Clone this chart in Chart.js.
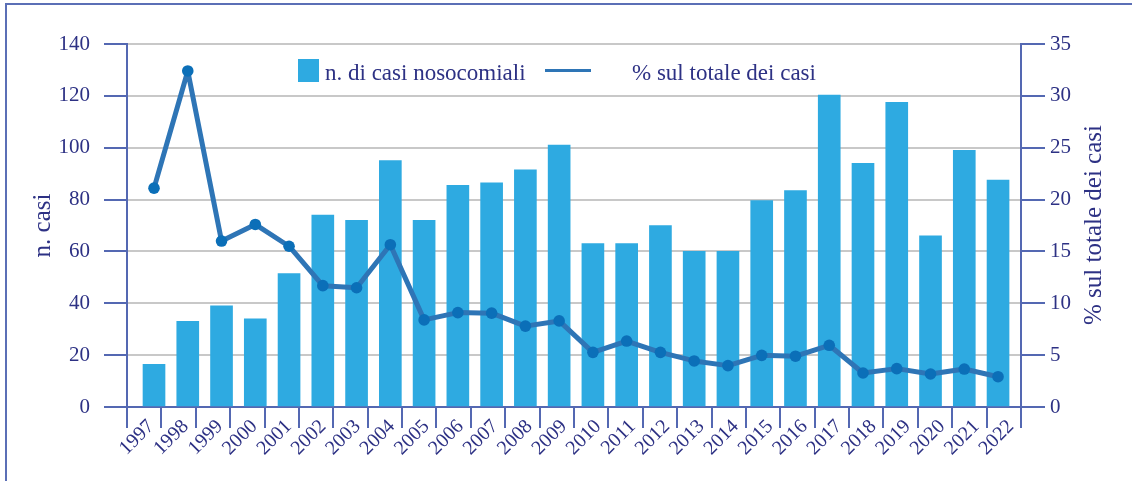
<!DOCTYPE html>
<html>
<head>
<meta charset="utf-8">
<script src="https://cdn.jsdelivr.net/npm/chart.js@4.4.0/dist/chart.umd.min.js"></script>
<style>
html,body{margin:0;padding:0;background:#fff;}
#wrap{position:relative;width:1132px;height:481px;overflow:hidden;background:#fff;}
#frame{position:absolute;left:5px;top:3px;width:1200px;height:600px;border-left:2px solid #5b6fb6;border-top:2px solid #5b6fb6;box-sizing:border-box;}
canvas{position:absolute;left:0;top:0;}
.leg{position:absolute;font-family:"Liberation Serif",serif;font-size:23px;color:#2d3184;white-space:nowrap;line-height:1;}
#rt{position:absolute;left:943px;top:210px;width:300px;height:30px;line-height:30px;text-align:center;font-family:"Liberation Serif",serif;font-size:25px;color:#2d3184;transform:rotate(-90deg);transform-origin:50% 50%;white-space:nowrap;}
</style>
</head>
<body>
<div id="wrap">
  <div id="frame"></div>
  <canvas id="c" width="1132" height="481"></canvas>
  <div class="leg" style="left:298px;top:59px;width:21px;height:23px;background:#2eaae1"></div>
  <div class="leg" style="left:325px;top:61px">n. di casi nosocomiali</div>
  <div class="leg" style="left:545px;top:69px;width:46px;height:3px;background:#2e75b6"></div>
  <div class="leg" style="left:632px;top:61px">% sul totale dei casi</div>
  <div id="rt">% sul totale dei casi</div>
</div>
<script>
const years = ['1997','1998','1999','2000','2001','2002','2003','2004','2005','2006','2007','2008','2009','2010','2011','2012','2013','2014','2015','2016','2017','2018','2019','2020','2021','2022'];
const casiNosocomiali = [16.5,33,39,34,51.5,74,72,95,72,85.5,86.5,91.5,101,63,63,70,60,60,79.6,83.5,120.3,94,117.5,66,99,87.5];
const percTotale = [21.1,32.4,16.0,17.6,15.5,11.7,11.5,15.65,8.4,9.1,9.05,7.8,8.3,5.27,6.36,5.27,4.44,3.99,4.98,4.9,5.95,3.28,3.7,3.18,3.66,2.92];
const leftTicks = [0,20,40,60,80,100,120,140];
const rightTicks = [0,5,10,15,20,25,30,35];

const AXIS = '#5468b2';
const TXT = '#2d3184';
const GRID = '#c8c8c8';
const FONT = 'Liberation Serif';

Chart.defaults.font.family = FONT;

new Chart(document.getElementById('c'), {
  type: 'bar',
  data: {
    labels: years,
    datasets: [
      {
        type: 'line',
        label: '% sul totale dei casi',
        data: percTotale.map((v, i) => ({x: i, y: v})),
        xAxisID: 'xd',
        yAxisID: 'y1',
        borderColor: '#2e75b6',
        borderWidth: 5,
        borderJoinStyle: 'round',
        borderCapStyle: 'round',
        pointRadius: 5.8,
        pointBackgroundColor: '#0b6fb8',
        pointBorderWidth: 0,
        tension: 0,
        order: 1
      },
      {
        type: 'bar',
        label: 'n. di casi nosocomiali',
        data: casiNosocomiali.map((v, i) => ({x: i, y: v})),
        xAxisID: 'xd',
        yAxisID: 'y',
        backgroundColor: '#2eaae1',
        barThickness: 22,
        order: 2
      }
    ]
  },
  options: {
    responsive: false,
    animation: false,
    devicePixelRatio: 1,
    layout: {padding: {left: 0, right: 0, top: 44, bottom: 0}},
    plugins: {legend: {display: false}, tooltip: {enabled: false}},
    scales: {
      x: {
        type: 'category',
        position: 'bottom',
        offset: true,
        grid: {offset: true, drawOnChartArea: false, tickLength: 21, color: AXIS, lineWidth: 2},
        border: {color: AXIS, width: 2},
        ticks: {autoSkip: false, minRotation: 45, maxRotation: 45, padding: -13, labelOffset: 7, color: TXT, font: {family: FONT, size: 20}},
        afterFit(s) { s.height = 74; }
      },
      xd: {type: 'linear', display: false, offset: false, min: -0.8, max: 25.68},
      y: {
        position: 'left',
        min: 0, max: 140,
        afterBuildTicks(s) { s.ticks = leftTicks.map(v => ({value: v})); },
        ticks: {padding: 14, color: TXT, font: {family: FONT, size: 21}},
        grid: {color: GRID, lineWidth: 2, tickColor: AXIS, tickLength: 23},
        border: {color: AXIS, width: 2},
        title: {display: true, text: 'n. casi', color: TXT, font: {family: FONT, size: 25}, padding: {top: 28, bottom: 0}},
        afterFit(s) { s.width = 127; }
      },
      y1: {
        position: 'right',
        min: 0, max: 35,
        afterBuildTicks(s) { s.ticks = rightTicks.map(v => ({value: v})); },
        ticks: {padding: 5, color: TXT, font: {family: FONT, size: 21}},
        grid: {drawOnChartArea: false, color: AXIS, lineWidth: 2, tickLength: 24},
        border: {color: AXIS, width: 2},
        afterFit(s) { s.width = 111; }
      }
    }
  }
});
</script>
</body>
</html>
